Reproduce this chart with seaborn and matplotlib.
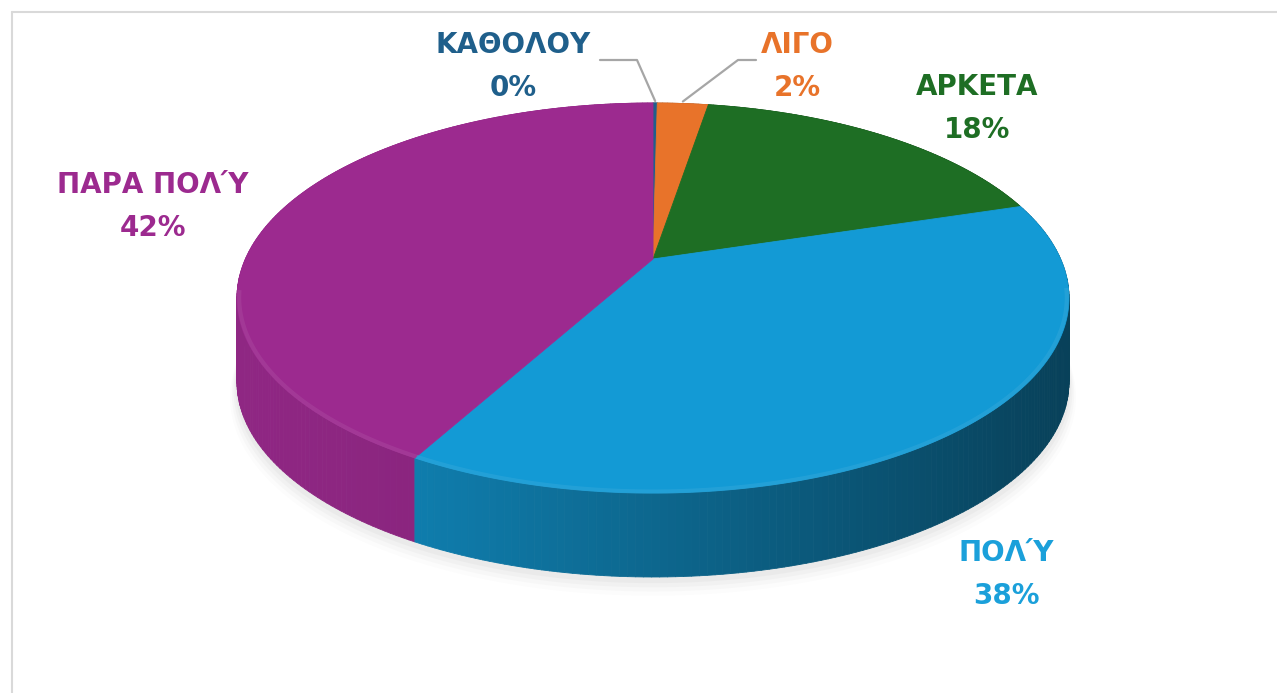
import numpy as np
import matplotlib
matplotlib.use("Agg")
import matplotlib.pyplot as plt
import seaborn as sns
from matplotlib.collections import PolyCollection
from matplotlib.patches import Polygon

# ---------------- data ----------------
categories = ["ΚΑΘΟΛΟΥ", "ΛΙΓΟ", "ΑΡΚΕΤΑ", "ΠΟΛΎ", "ΠΑΡΑ ΠΟΛΎ"]
values = [0.2, 2.4, 17.6, 37.8, 42.0]
top_colors = ["#1F5F8B", "#E8732A", "#1E6E24", "#139AD5", "#9C2A8F"]
label_colors = ["#1F5F8B", "#E8732A", "#1E6E24", "#1BA0DA", "#9C2A8F"]

sns.set_theme(style="white")
plt.rcParams["font.family"] = ["DejaVu Sans"]

W, H = 1277, 693
fig = plt.figure(figsize=(W / 100, H / 100), dpi=100)
ax = fig.add_axes([0, 0, 1, 1])
ax.set_xlim(0, W)
ax.set_ylim(H, 0)
ax.axis("off")

# ---------------- perspective pie geometry ----------------
CX, CY = 653.0, 259.0
A0, B0, P = 407.6, 187.2, 0.2
THICK = 84.0


def proj(theta, r=1.0, dz=0.0):
    x = r * np.sin(theta)
    y = r * np.cos(theta)
    s = 1.0 / (1.0 + P * y)
    return CX + A0 * x * s, CY - B0 * y * s + dz


vals = np.asarray(values, dtype=float)
fracs = vals / vals.sum()
edges = np.concatenate([[0.0], np.cumsum(fracs)]) * 2 * np.pi

# soft shadow under the pie
tt = np.linspace(0, 2 * np.pi, 300)
for k, (off, alpha) in enumerate([(14, 0.025), (11, 0.035), (8, 0.045), (5, 0.055)]):
    u, v = proj(tt, r=1.0 + 0.004 * (4 - k), dz=THICK + off)
    ax.add_patch(Polygon(np.column_stack([u, v]), closed=True,
                         facecolor="#808080", edgecolor="none", alpha=alpha, zorder=1))

# side walls, drawn back to front
quads, qcolors, depth = [], [], []
for i in range(len(vals)):
    n = max(2, int(np.ceil((edges[i + 1] - edges[i]) / (2 * np.pi) * 400)))
    th = np.linspace(edges[i], edges[i + 1], n + 1)
    base = np.array(matplotlib.colors.to_rgb(top_colors[i]))
    for a, b in zip(th[:-1], th[1:]):
        ua, va = proj(a)
        ub, vb = proj(b)
        quads.append([(ua, va), (ub, vb), (ub, vb + THICK), (ua, va + THICK)])
        um = 0.5 * (ua + ub)
        f = 0.92 - 0.50 * (um - 237) / 831
        if i == 4:
            f = 0.92 - 0.15 * (um - 237) / 831
        qcolors.append(np.clip(base * f, 0, 1))
        depth.append(np.cos(0.5 * (a + b)))
order = np.argsort(depth)[::-1]
pc = PolyCollection([quads[j] for j in order], facecolors=[qcolors[j] for j in order],
                    edgecolors=[qcolors[j] for j in order], linewidths=0.6, zorder=2)
ax.add_collection(pc)

# top faces
for i in range(len(vals)):
    n = max(2, int(np.ceil((edges[i + 1] - edges[i]) / (2 * np.pi) * 400)))
    th = np.linspace(edges[i], edges[i + 1], n + 1)
    u, v = proj(th)
    pts = np.vstack([[CX, CY], np.column_stack([u, v])])
    ax.add_patch(Polygon(pts, closed=True, facecolor=top_colors[i],
                         edgecolor=top_colors[i], linewidth=0.6, zorder=3))
    # soft bevel highlight right on the front rim
    front = np.cos(th) < -0.15
    if front.sum() > 1:
        base = np.array(matplotlib.colors.to_rgb(top_colors[i]))
        light = np.clip(base + (1 - base) * 0.15, 0, 1)
        uh, vh = proj(th[front], r=0.995)
        ax.plot(uh, vh, color=light, lw=3, alpha=0.45, zorder=4,
                solid_capstyle="butt")

# ---------------- labels ----------------
label_pos = [(513, 45), (797, 45), (977, 87), (1006, 553), (153, 185)]
LINE = 43
for i, (cat, (lx, ly)) in enumerate(zip(categories, label_pos)):
    pct = f"{round(values[i]):.0f}%"
    ax.text(lx, ly, cat, color=label_colors[i], fontsize=20, fontweight="bold",
            ha="center", va="center", zorder=6)
    ax.text(lx, ly + LINE, pct, color=label_colors[i], fontsize=20, fontweight="bold",
            ha="center", va="center", zorder=6)

# leader lines for the two small slices
for i, (sx, kx) in [(0, (600, 637)), (1, (756, 738))]:
    mid = 0.5 * (edges[i] + edges[i + 1])
    ex, ey = proj(mid)
    ax.plot([sx, kx, ex], [60, 60, ey - 2], color="#A6A6A6", lw=1.6, zorder=5)

# chart frame
ax.plot([12, W], [12, 12], color="#D9D9D9", lw=1.5, zorder=0)
ax.plot([12, 12], [12, H], color="#D9D9D9", lw=1.5, zorder=0)

fig.savefig("out.png", dpi=100)
